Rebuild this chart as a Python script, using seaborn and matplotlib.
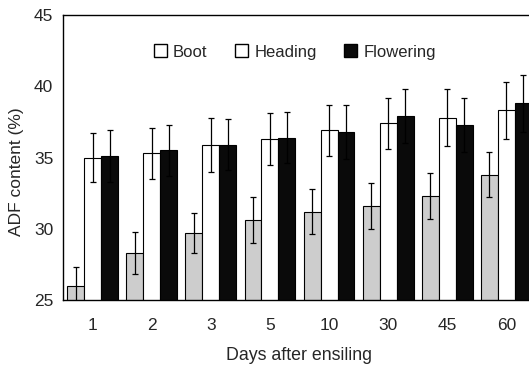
import matplotlib
matplotlib.use("Agg")
import matplotlib.pyplot as plt
import seaborn as sns
import pandas as pd
import numpy as np
from matplotlib.patches import Patch

days = ["1", "2", "3", "5", "10", "30", "45", "60"]
stages = ["Boot", "Heading", "Flowering"]
boot = [26.0, 28.3, 29.7, 30.6, 31.2, 31.6, 32.3, 33.8]
heading = [35.0, 35.3, 35.9, 36.3, 36.9, 37.4, 37.8, 38.3]
flowering = [35.1, 35.5, 35.9, 36.4, 36.8, 37.9, 37.3, 38.8]
boot_err = [1.3, 1.5, 1.4, 1.6, 1.6, 1.6, 1.6, 1.6]
heading_err = [1.7, 1.8, 1.9, 1.8, 1.8, 1.8, 2.0, 2.0]
flowering_err = [1.8, 1.8, 1.8, 1.8, 1.9, 1.9, 1.9, 2.0]

values = {"Boot": boot, "Heading": heading, "Flowering": flowering}
errors = {"Boot": boot_err, "Heading": heading_err, "Flowering": flowering_err}
colors = {"Boot": "#cdcdcd", "Heading": "#ffffff", "Flowering": "#0a0a0a"}

rows = []
for s in stages:
    for d, v, e in zip(days, values[s], errors[s]):
        rows.append({"Day": d, "Stage": s, "ADF": v, "err": e})
df = pd.DataFrame(rows)

sns.set_style("white")
plt.rcParams["font.family"] = ["Liberation Sans", "DejaVu Sans"]

fig = plt.figure(figsize=(5.29, 3.65), dpi=100)
W, H = 529, 365
ax = fig.add_axes([63 / W, 65 / H, (536 - 63) / W, (350 - 65) / H])

sns.barplot(data=df, x="Day", y="ADF", hue="Stage", order=days, hue_order=stages,
            palette=colors, width=0.86, gap=0, errorbar=None,
            edgecolor="black", linewidth=0.8, ax=ax, legend=False)

# error bars from bar geometry
for container, s in zip(ax.containers, stages):
    xs = [p.get_x() + p.get_width() / 2 for p in container.patches]
    ax.errorbar(xs, values[s], yerr=errors[s], fmt="none", ecolor="black",
                elinewidth=0.9, capsize=2.5, capthick=0.9, zorder=5)

ax.set_ylim(25, 45)
ax.set_xlim(-0.5, 7.5)
ax.set_yticks([25, 30, 35, 40, 45])
ax.set_xlabel("Days after ensiling", fontsize=12.8, labelpad=10)
ax.set_ylabel("ADF content (%)", fontsize=12.5)
ax.yaxis.set_label_coords(-0.082, 0.45)
ax.tick_params(axis="both", labelsize=12.5, length=0, pad=7)
ax.tick_params(axis="x", pad=13)
for sp in ax.spines.values():
    sp.set_visible(True)
    sp.set_color("black")
    sp.set_linewidth(1.0)

handles = [Patch(facecolor="white", edgecolor="black", label="Boot"),
           Patch(facecolor="white", edgecolor="black", label="Heading"),
           Patch(facecolor="#0a0a0a", edgecolor="black", label="Flowering")]
ax.legend(handles=handles, loc="upper left", bbox_to_anchor=(0.178, 0.92), ncol=3,
          frameon=False, fontsize=12, handlelength=0.8, handleheight=0.8,
          handletextpad=0.35, columnspacing=1.65, borderaxespad=0)

fig.savefig("out.png", dpi=100)
